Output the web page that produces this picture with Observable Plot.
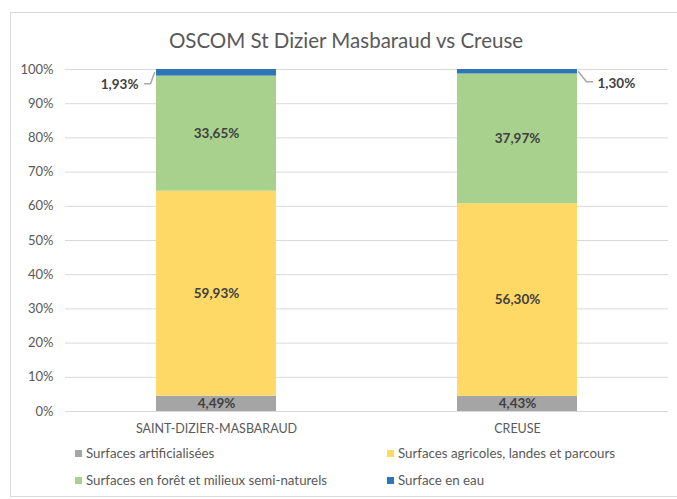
<!DOCTYPE html>
<html><head><meta charset="utf-8">
<script src="https://cdn.jsdelivr.net/npm/d3@7"></script>
<script src="https://cdn.jsdelivr.net/npm/@observablehq/plot@0.6"></script>
<style>
body{margin:0;background:#fff;overflow:hidden;font-family:Lato,"Open Sans",sans-serif;}
#wrap{position:relative;width:677px;height:499px;overflow:hidden;}
#frame{position:absolute;left:10px;top:12px;width:700px;height:485px;border:1px solid #d9d9d9;box-sizing:border-box;}
#title{position:absolute;left:10px;width:672px;top:28px;text-align:center;font-size:20.5px;line-height:24px;color:#595959;}
#chart{position:absolute;left:0;top:0;}
.leg{position:absolute;font-size:13.3px;color:#595959;line-height:14px;display:flex;align-items:center;white-space:nowrap;}
.leg .sw{width:7px;height:7px;margin-right:4px;display:inline-block;}
</style></head>
<body>
<div id="wrap">
  <div id="frame"></div>
  <div id="chart"></div>
  <div id="title"></div>
  <div id="legend"></div>
</div>
<script>
const chartTitle = "OSCOM St Dizier Masbaraud vs Creuse";
const communes = ["SAINT-DIZIER-MASBARAUD", "CREUSE"];
const categories = ["Surfaces artificialisées", "Surfaces agricoles, landes et parcours", "Surfaces en forêt et milieux semi-naturels", "Surface en eau"];
const colors = ["#a5a5a5", "#ffd966", "#a9d18e", "#2e75b6"];
const saintDizier = [4.49, 59.93, 33.65, 1.93];
const creuse = [4.43, 56.30, 37.97, 1.30];
const yTicks = [0, 10, 20, 30, 40, 50, 60, 70, 80, 90, 100];

const series = [saintDizier, creuse];
const data = communes.flatMap((c, i) => categories.map((k, j) => ({commune: c, category: k, value: series[i][j]})));
const fmt = v => v.toFixed(2).replace(".", ",") + "%";
const eau = categories[3];

const leftLeader = {draw(ctx) { ctx.moveTo(0, 0); ctx.lineTo(-4, 11); ctx.lineTo(-10, 11); }};
const rightLeader = {draw(ctx) { ctx.moveTo(0, 0); ctx.lineTo(8, 10); ctx.lineTo(14, 10); }};

const sd = data.filter(d => d.commune === communes[0]);
const cr = data.filter(d => d.commune === communes[1]);

const plot = Plot.plot({
  width: 677, height: 445,
  marginTop: 69, marginBottom: 34, marginLeft: 65, marginRight: 9,
  style: {fontFamily: "Lato, sans-serif", fontSize: "13px", color: "#595959", background: "transparent"},
  x: {domain: communes, paddingInner: 0.6, paddingOuter: 0.3, label: null},
  y: {domain: [0, 100], label: null},
  color: {domain: categories, range: colors},
  marks: [
    Plot.gridY(yTicks, {stroke: "#d9d9d9", strokeOpacity: 1}),
    Plot.barY(data, {x: "commune", y: "value", fill: "category"}),
    Plot.text(data, Plot.stackY({x: "commune", y: "value", text: d => d.category === eau ? "" : fmt(d.value), fill: "#404040", fontWeight: "bold", fontSize: 13.5})),
    Plot.text(sd, Plot.stackY({x: "commune", y: "value", text: d => d.category === eau ? fmt(d.value) : "", fill: "#404040", fontWeight: "bold", fontSize: 13.5, textAnchor: "end", dx: -78, dy: 12})),
    Plot.text(cr, Plot.stackY({x: "commune", y: "value", text: d => d.category === eau ? fmt(d.value) : "", fill: "#404040", fontWeight: "bold", fontSize: 13.5, textAnchor: "start", dx: 80, dy: 12})),
    Plot.vector(sd, Plot.stackY({x: "commune", y: "value", length: 1, anchor: "start", shape: leftLeader, stroke: "#a6a6a6", strokeOpacity: d => d.category === eau ? 1 : 0, dx: -62})),
    Plot.vector(cr, Plot.stackY({x: "commune", y: "value", length: 1, anchor: "start", shape: rightLeader, stroke: "#a6a6a6", strokeOpacity: d => d.category === eau ? 1 : 0, dx: 61})),
    Plot.axisY(yTicks, {tickSize: 0, tickPadding: 12, tickFormat: d => d + "%", label: null, fontSize: 13}),
    Plot.axisX({tickSize: 0, tickPadding: 13, label: null, fontSize: 12.5})
  ]
});
document.getElementById("chart").appendChild(plot);
document.getElementById("title").textContent = chartTitle;

const legPos = [[75, 446], [387, 446], [75, 473], [387, 473]];
const legend = document.getElementById("legend");
categories.forEach((k, i) => {
  const el = document.createElement("div");
  el.className = "leg";
  el.style.left = legPos[i][0] + "px";
  el.style.top = legPos[i][1] + "px";
  const sw = document.createElement("span");
  sw.className = "sw";
  sw.style.background = colors[i];
  el.appendChild(sw);
  el.appendChild(document.createTextNode(k));
  legend.appendChild(el);
});
</script>
</body></html>
